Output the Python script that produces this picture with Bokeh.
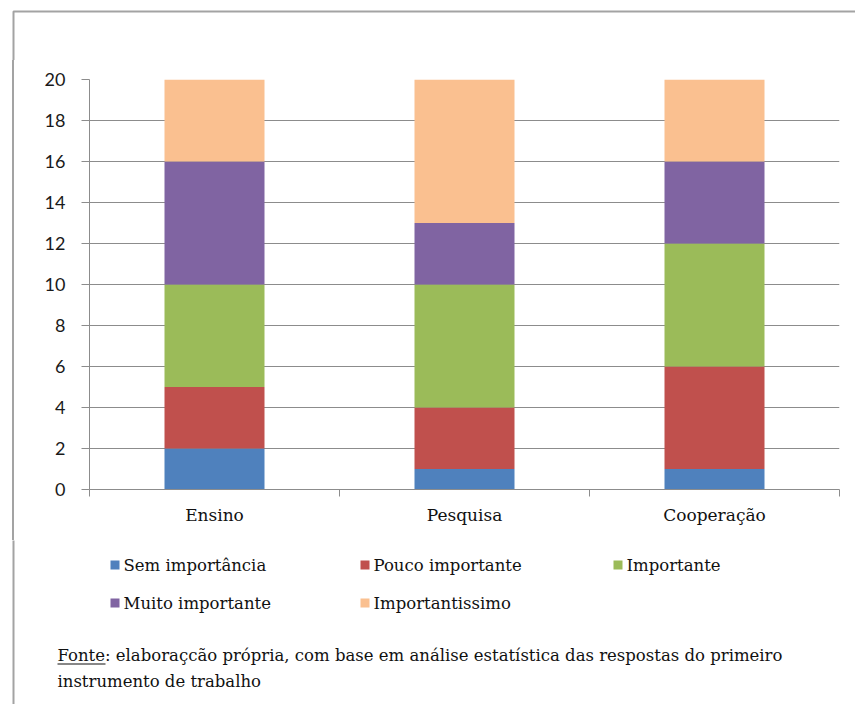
from bokeh.plotting import figure
from bokeh.layouts import column, row
from bokeh.models import (ColumnDataSource, FixedTicker, Range1d, Label,
                          BoxAnnotation, Div)
from bokeh.embed import file_html
from bokeh.resources import INLINE

# --- data -------------------------------------------------------------
categories = ["Ensino", "Pesquisa", "Cooperação"]
series = ["Sem importância", "Pouco importante", "Importante",
          "Muito importante", "Importantissimo"]
sem_importancia = [2, 1, 1]
pouco_importante = [3, 3, 5]
importante = [5, 6, 6]
muito_importante = [6, 3, 4]
importantissimo = [4, 7, 4]
y_ticks = [0, 2, 4, 6, 8, 10, 12, 14, 16, 18, 20]
colors = ["#4F81BD", "#C0504D", "#9BBB59", "#8064A2", "#FAC090"]
footnote_lines = [
    "Fonte: elaboraçcão própria, com base em análise estatística das respostas do primeiro",
    "instrumento de trabalho",
]

centers = [i + 0.5 for i in range(len(categories))]
source = ColumnDataSource(dict(
    x=centers,
    s0=sem_importancia, s1=pouco_importante, s2=importante,
    s3=muito_importante, s4=importantissimo,
))
keys = ["s0", "s1", "s2", "s3", "s4"]

W, H = 855, 704
TOP_H = 60          # strip above the chart
LEFT_W = 40         # strip left of the chart
CHART_H = 480
BOTTOM_H = H - TOP_H - CHART_H
BORDER = "#A3A3A3"
TEXT = "#111111"
axis_gray = "#8C8C8C"


def strip(width, height, y0, x0=0):
    """Blank figure whose data coordinates equal page pixels."""
    f = figure(width=width, height=height, output_backend="svg",
               toolbar_location=None, x_axis_location=None,
               y_axis_location=None, min_border=0,
               x_range=Range1d(x0, x0 + width),
               y_range=Range1d(y0 + height, y0))
    f.grid.visible = False
    f.outline_line_color = None
    f.background_fill_color = "white"
    f.border_fill_color = "white"
    # frame of the whole chart area (only the top/left edges fall on the page)
    f.add_layout(BoxAnnotation(left=13, right=W + 30, top=11, bottom=H + 30,
                               fill_color=None, line_color=BORDER,
                               line_alpha=1, line_width=2))
    return f


top = strip(W, TOP_H, 0)
bottom = strip(W, BOTTOM_H, TOP_H + CHART_H)
# left edge of the chart area beside the plot
left = Div(width=LEFT_W, height=CHART_H, margin=(0, 0, 0, 0),
           text=f'<div style="margin-left:12px;width:2px;height:{CHART_H}px;'
                f'background:{BORDER}"></div>')

# --- stacked bar chart ------------------------------------------------
p = figure(width=W - LEFT_W, height=CHART_H, output_backend="svg",
           toolbar_location=None,
           x_range=Range1d(0, len(categories)), y_range=Range1d(0, 20),
           min_border_left=49, min_border_right=16,
           min_border_top=19, min_border_bottom=51)
p.outline_line_color = None
p.background_fill_color = "white"
p.border_fill_color = "white"

p.vbar_stack(keys, x="x", width=0.4, color=colors, source=source,
             line_color=None)

# y axis
p.yaxis.ticker = FixedTicker(ticks=y_ticks)
p.yaxis.axis_line_color = axis_gray
p.yaxis.major_tick_line_color = axis_gray
p.yaxis.major_tick_out = 8
p.yaxis.major_tick_in = 0
p.yaxis.minor_tick_line_color = None
p.yaxis.major_label_text_font = "Lato"
p.yaxis.major_label_text_font_size = "18px"
p.yaxis.major_label_text_color = "#1a1a1a"
p.yaxis.major_label_standoff = 16

# x axis: labels at category centres, ticks at category boundaries
p.xaxis.ticker = FixedTicker(ticks=centers,
                             minor_ticks=list(range(len(categories) + 1)))
p.xaxis.major_label_overrides = {c: n for c, n in zip(centers, categories)}
p.xaxis.axis_line_color = axis_gray
p.xaxis.major_tick_line_color = None
p.xaxis.minor_tick_line_color = axis_gray
p.xaxis.minor_tick_out = 7
p.xaxis.minor_tick_in = 0
p.xaxis.major_label_text_font = "DejaVu Serif"
p.xaxis.major_label_text_font_size = "17px"
p.xaxis.major_label_text_color = TEXT
p.xaxis.major_label_standoff = 8

p.xgrid.grid_line_color = None
p.ygrid.ticker = FixedTicker(ticks=y_ticks)
p.ygrid.grid_line_color = axis_gray
p.ygrid.grid_line_width = 1


def text_label(f, x, y, text, size="16.5px"):
    f.add_layout(Label(x=x, y=y, text=text, text_font="DejaVu Serif",
                       text_font_size=size, text_baseline="middle",
                       text_align="left", text_color=TEXT))


# --- legend -----------------------------------------------------------
legend_pos = [(110, 565), (360, 565), (613, 565), (110, 603), (360, 603)]
for name, col, (lx, ly) in zip(series, colors, legend_pos):
    bottom.add_layout(BoxAnnotation(left=lx, right=lx + 9, top=ly - 5,
                                    bottom=ly + 4, fill_color=col,
                                    fill_alpha=1, line_color=None))
    text_label(bottom, lx + 13, ly, name)

# --- footnote ---------------------------------------------------------
for i, line in enumerate(footnote_lines):
    text_label(bottom, 57, 655 + 26 * i, line)
bottom.add_layout(BoxAnnotation(left=57, right=105, top=663, bottom=664,
                                fill_color=TEXT, fill_alpha=1,
                                line_color=None))

layout = column(top, row(left, p), bottom)
open("out.html", "w").write(file_html(layout, INLINE))
